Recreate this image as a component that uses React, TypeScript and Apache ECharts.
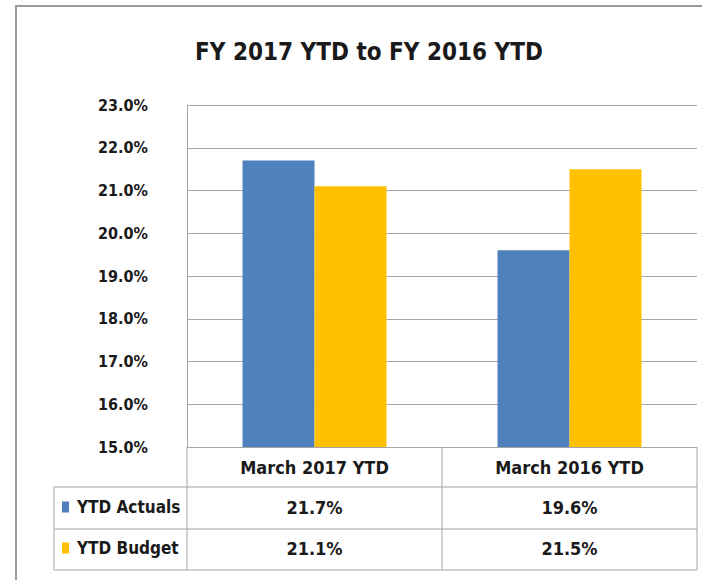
import React, { useEffect, useRef } from "react";
import * as echarts from "echarts";

const categories = ["March 2017 YTD", "March 2016 YTD"];
const seriesNames = ["YTD Actuals", "YTD Budget"];
const actuals = [21.7, 19.6];
const budget = [21.1, 21.5];
const yMin = 15;
const yMax = 23;
const yStep = 1;

const FONT = "'DejaVu Sans Condensed', 'Liberation Sans', 'Noto Sans', sans-serif";
const GRID = "#a6a6a6";
const BLUE = "#4f81bd";
const GOLD = "#ffc000";

export default function App() {
  const ref = useRef<HTMLDivElement>(null);
  useEffect(() => {
    if (!ref.current) return;
    const chart = echarts.init(ref.current, undefined, { renderer: "svg" });
    const fmt = (v: number) => v.toFixed(1) + "%";
    const lineStyle = { stroke: GRID, lineWidth: 1 };
    const hLine = (y: number, x1: number, x2: number) => ({
      type: "line", silent: true, shape: { x1, y1: y, x2, y2: y }, style: lineStyle,
    });
    const vLine = (x: number, y1: number, y2: number) => ({
      type: "line", silent: true, shape: { x1: x, y1, x2: x, y2 }, style: lineStyle,
    });
    chart.setOption({
      animation: false,
      backgroundColor: "#fff",
      title: {
        text: "FY 2017 YTD to FY 2016 YTD",
        left: 364,
        top: 35,
        textAlign: "center",
        textStyle: { fontFamily: FONT, fontWeight: "bold", fontSize: 24, color: "#1a1a1a" },
      },
      legend: {
        orient: "vertical",
        left: 57,
        top: 491,
        itemGap: 19,
        itemWidth: 7,
        itemHeight: 11,
        icon: "rect",
        data: seriesNames,
        textStyle: { fontFamily: FONT, fontWeight: "bold", fontSize: 17, color: "#1a1a1a", lineHeight: 22, padding: [0, 0, 0, 3] },
      },
      grid: { left: 187, right: 5, top: 105, bottom: 133, containLabel: false },
      xAxis: {
        type: "category",
        data: categories,
        axisLine: { show: true, lineStyle: { color: GRID } },
        axisTick: { show: false },
        axisLabel: {
          margin: 0,
          interval: 0,
          formatter: (v: string, i: number) => `{h|${v}}\n{v|${fmt(actuals[i])}}\n{v|${fmt(budget[i])}}`,
          rich: {
            h: { fontFamily: FONT, fontWeight: "bold", fontSize: 18, color: "#1a1a1a", lineHeight: 40, height: 40 },
            v: { fontFamily: FONT, fontWeight: "bold", fontSize: 18, color: "#1a1a1a", lineHeight: 41, height: 41 },
          },
        },
      },
      yAxis: {
        type: "value",
        min: yMin,
        max: yMax,
        interval: yStep,
        axisLine: { show: true, lineStyle: { color: GRID } },
        axisTick: { show: false },
        splitLine: { lineStyle: { color: GRID, width: 1 } },
        axisLabel: {
          margin: 39,
          formatter: (v: number) => fmt(v),
          fontFamily: FONT,
          fontWeight: "bold",
          fontSize: 16,
          color: "#1a1a1a",
        },
      },
      series: [
        { name: seriesNames[0], type: "bar", data: actuals, barWidth: 72, barGap: "0%", itemStyle: { color: BLUE } },
        { name: seriesNames[1], type: "bar", data: budget, barWidth: 72, barGap: "0%", itemStyle: { color: GOLD } },
      ],
      graphic: [
        { type: "rect", silent: true, shape: { x: 16, y: 6, width: 720, height: 620 }, style: { fill: "none", stroke: "#9a9a9a", lineWidth: 2 } },
        hLine(487, 54, 697),
        hLine(529, 54, 697),
        hLine(570, 54, 697),
        vLine(54, 487, 570),
        vLine(187, 447, 570),
        vLine(442, 447, 570),
        vLine(697, 447, 570),
      ],
    });
    return () => chart.dispose();
  }, []);
  return <div ref={ref} style={{ position: "absolute", left: 0, top: 0, width: 702, height: 580 }} />;
}
